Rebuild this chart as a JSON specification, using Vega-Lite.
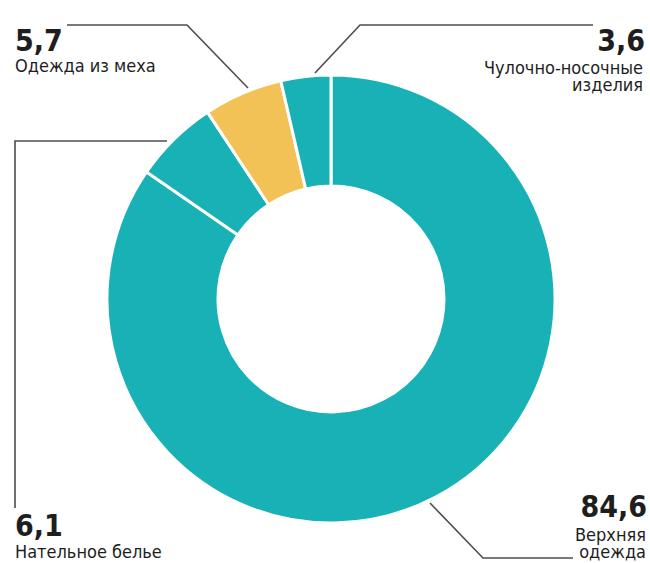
{
  "$schema": "https://vega.github.io/schema/vega-lite/v6.json",
  "width": 638,
  "height": 528,
  "autosize": "none",
  "padding": {"left": 12, "top": 35, "right": 0, "bottom": 0},
  "background": "white",
  "config": {"view": {"stroke": null}},
  "datasets": {
    "slices": [
      {"cat": "Верхняя одежда", "value": 84.6, "ord": 1},
      {"cat": "Нательное белье", "value": 6.1, "ord": 2},
      {"cat": "Одежда из меха", "value": 5.7, "ord": 3},
      {"cat": "Чулочно-носочные изделия", "value": 3.6, "ord": 4}
    ],
    "leaders": [
      {"cat": "Одежда из меха", "pt": 1, "x": -264, "y": 274},
      {"cat": "Одежда из меха", "pt": 2, "x": -144, "y": 274},
      {"cat": "Одежда из меха", "pt": 3, "x": -83, "y": 211},
      {"cat": "Чулочно-носочные изделия", "pt": 1, "x": 262, "y": 274},
      {"cat": "Чулочно-носочные изделия", "pt": 2, "x": 29, "y": 274},
      {"cat": "Чулочно-носочные изделия", "pt": 3, "x": -16, "y": 226},
      {"cat": "Нательное белье", "pt": 1, "x": -164, "y": 158},
      {"cat": "Нательное белье", "pt": 2, "x": -316, "y": 158},
      {"cat": "Нательное белье", "pt": 3, "x": -316, "y": -209},
      {"cat": "Верхняя одежда", "pt": 1, "x": 99, "y": -204},
      {"cat": "Верхняя одежда", "pt": 2, "x": 152, "y": -259},
      {"cat": "Верхняя одежда", "pt": 3, "x": 242, "y": -259}
    ],
    "numsLeft": [
      {"t": "5,7", "x": -316, "y": 248},
      {"t": "6,1", "x": -316, "y": -237}
    ],
    "numsRight": [
      {"t": "3,6", "x": 314, "y": 248},
      {"t": "84,6", "x": 316, "y": -218}
    ],
    "namesLeft": [
      {"t": "Одежда из меха", "x": -316, "y": 227},
      {"t": "Нательное белье", "x": -316, "y": -259}
    ],
    "namesRight": [
      {"t": "Чулочно-носочные\nизделия", "x": 312, "y": 225},
      {"t": "Верхняя\nодежда", "x": 315, "y": -242}
    ]
  },
  "layer": [
    {
      "data": {"name": "slices"},
      "mark": {"type": "arc", "innerRadius": 113, "outerRadius": 224, "stroke": "white", "strokeWidth": 3},
      "encoding": {
        "theta": {"field": "value", "type": "quantitative", "stack": true},
        "order": {"field": "ord", "type": "quantitative", "sort": "ascending"},
        "color": {
          "field": "cat",
          "type": "nominal",
          "scale": {
            "domain": ["Верхняя одежда", "Нательное белье", "Одежда из меха", "Чулочно-носочные изделия"],
            "range": ["#17b1b6", "#17b1b6", "#f2c257", "#17b1b6"]
          },
          "legend": null
        }
      }
    },
    {
      "data": {"name": "leaders"},
      "mark": {"type": "line", "stroke": "#4d4d4d", "strokeWidth": 1.6, "clip": false},
      "encoding": {
        "x": {"field": "x", "type": "quantitative", "scale": {"domain": [-319, 319], "nice": false, "zero": false}, "axis": null},
        "y": {"field": "y", "type": "quantitative", "scale": {"domain": [-264, 264], "nice": false, "zero": false}, "axis": null},
        "detail": {"field": "cat", "type": "nominal"},
        "order": {"field": "pt", "type": "quantitative"}
      }
    },
    {
      "data": {"name": "numsLeft"},
      "mark": {"type": "text", "align": "left", "baseline": "alphabetic", "font": "DejaVu Sans Condensed, DejaVu Sans", "fontWeight": "bold", "fontSize": 30, "fill": "#1e1e1e"},
      "encoding": {
        "x": {"field": "x", "type": "quantitative"},
        "y": {"field": "y", "type": "quantitative"},
        "text": {"field": "t"}
      }
    },
    {
      "data": {"name": "numsRight"},
      "mark": {"type": "text", "align": "right", "baseline": "alphabetic", "font": "DejaVu Sans Condensed, DejaVu Sans", "fontWeight": "bold", "fontSize": 30, "fill": "#1e1e1e"},
      "encoding": {
        "x": {"field": "x", "type": "quantitative"},
        "y": {"field": "y", "type": "quantitative"},
        "text": {"field": "t"}
      }
    },
    {
      "data": {"name": "namesLeft"},
      "mark": {"type": "text", "align": "left", "baseline": "alphabetic", "font": "DejaVu Sans Condensed, DejaVu Sans", "fontSize": 18, "fill": "#1e1e1e"},
      "encoding": {
        "x": {"field": "x", "type": "quantitative"},
        "y": {"field": "y", "type": "quantitative"},
        "text": {"field": "t"}
      }
    },
    {
      "data": {"name": "namesRight"},
      "mark": {"type": "text", "align": "right", "baseline": "alphabetic", "font": "DejaVu Sans Condensed, DejaVu Sans", "fontSize": 18, "lineHeight": 17, "lineBreak": "\n", "fill": "#1e1e1e"},
      "encoding": {
        "x": {"field": "x", "type": "quantitative"},
        "y": {"field": "y", "type": "quantitative"},
        "text": {"field": "t"}
      }
    }
  ]
}
